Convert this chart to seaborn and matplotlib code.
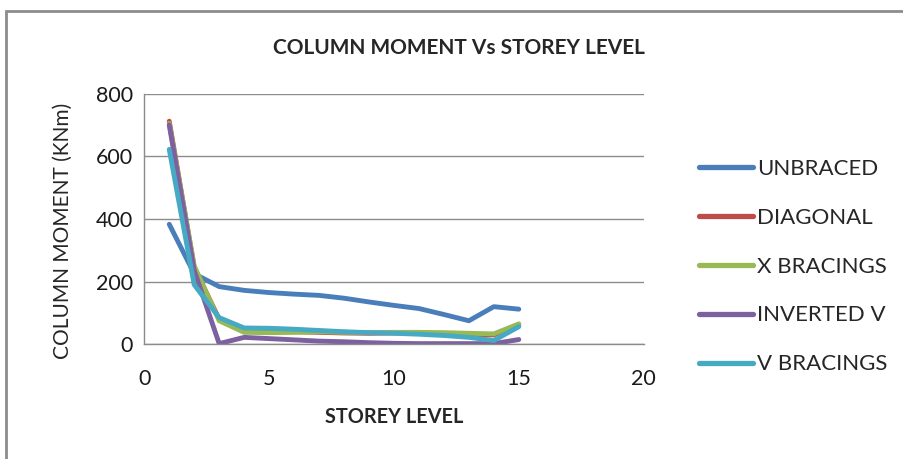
import matplotlib
matplotlib.use("Agg")
import matplotlib.pyplot as plt
from matplotlib.patches import Rectangle
import seaborn as sns
import pandas as pd

storey = list(range(1, 16))
unbraced = [383, 225, 184, 172, 165, 160, 156, 147, 135, 124, 114, 95, 75, 120, 112]
diagonal = [712, 245, 80, 42, 40, 40, 38, 36, 35, 36, 36, 34, 30, 30, 62]
x_bracings = [705, 250, 75, 38, 37, 38, 40, 38, 37, 38, 38, 37, 35, 33, 65]
inverted_v = [700, 235, 2, 22, 18, 14, 10, 8, 5, 3, 2, 2, 2, 2, 15]
v_bracings = [622, 190, 85, 52, 51, 48, 44, 40, 37, 35, 32, 28, 22, 12, 56]

series_names = ["UNBRACED", "DIAGONAL", "X BRACINGS", "INVERTED V", "V BRACINGS"]
series_values = [unbraced, diagonal, x_bracings, inverted_v, v_bracings]
colors = ["#4A7EBB", "#BE4B48", "#98B954", "#7D60A0", "#46AAC5"]

x_ticks = [0, 5, 10, 15, 20]
y_ticks = [0, 200, 400, 600, 800]

rows = []
for name, vals in zip(series_names, series_values):
    for s, v in zip(storey, vals):
        rows.append({"storey": s, "moment": v, "series": name})
df = pd.DataFrame(rows)

sns.set_theme(style="white")
plt.rcParams["font.family"] = ["Lato", "DejaVu Sans"]

fig = plt.figure(figsize=(9.04, 4.59), dpi=100)
ax = fig.add_axes([0.1596, 0.25, 0.712 - 0.1596, 0.796 - 0.25])

sns.lineplot(data=df, x="storey", y="moment", hue="series",
             hue_order=series_names, palette=colors, linewidth=3.5,
             ax=ax, legend=True)

ax.set_xlim(0, 20)
ax.set_ylim(0, 800)
ax.set_xticks(x_ticks)
ax.set_yticks(y_ticks)
ax.tick_params(axis="both", labelsize=15.5, colors="#1a1a1a")
ax.tick_params(axis="x", direction="out", length=6.5, width=1, color="#8c8c8c", pad=11.5)
ax.tick_params(axis="y", direction="out", length=4, width=1, color="#8c8c8c", pad=4)
ax.yaxis.grid(True, color="#8c8c8c", linewidth=1)
ax.set_axisbelow(True)
for side in ["top", "right"]:
    ax.spines[side].set_visible(False)
for side in ["left", "bottom"]:
    ax.spines[side].set_color("#8c8c8c")
    ax.spines[side].set_linewidth(1)

ax.set_xlabel("STOREY LEVEL", fontsize=14.3, fontweight="bold", labelpad=13)
ax.set_ylabel("COLUMN MOMENT (KNm)", fontsize=15)
ax.yaxis.set_label_coords(-0.143, 0.452)

fig.text(0.508, 1 - 48 / 459, "COLUMN MOMENT Vs STOREY LEVEL", ha="center", va="center",
         fontsize=15, fontweight="bold")

handles, labels = ax.get_legend_handles_labels()
leg = ax.legend(handles, labels, loc="center left", bbox_to_anchor=(1.07, 0.31),
                frameon=False, fontsize=16, handlelength=2.43, handletextpad=0.22,
                labelspacing=1.3)
for line in leg.get_lines():
    line.set_linewidth(3.8)

# chart frame
fig.patches.append(Rectangle((6 / 904, -0.2), 1.2, (1 - 11 / 459) + 0.2,
                             transform=fig.transFigure, fill=False,
                             edgecolor="#8c8c8c", linewidth=2))

fig.savefig("out.png", dpi=100)
